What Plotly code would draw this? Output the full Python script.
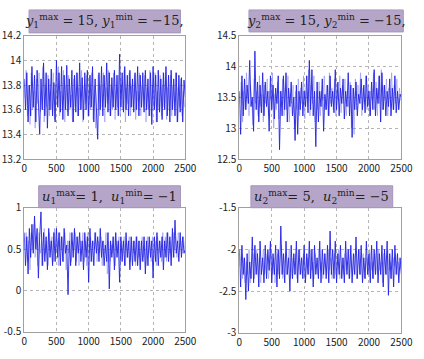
import numpy as np
import plotly.graph_objects as go

# dark (main) strokes, sampled every 20 steps
y1 = [13.85, 13.6, 13.9, 13.5, 13.8, 13.55, 13.95, 13.62, 13.88, 13.5, 13.92, 13.58, 13.4, 13.85, 13.6, 13.98, 13.55, 13.9, 13.45, 13.85, 13.6, 13.93, 13.55, 13.82, 13.5, 14.0, 13.62, 13.9, 13.58, 13.95, 13.52, 13.88, 13.6, 13.96, 13.55, 13.85, 13.62, 13.92, 13.5, 13.88, 13.58, 13.9, 13.55, 13.98, 13.6, 13.86, 13.52, 13.9, 13.6, 13.92, 13.55, 13.88, 13.62, 13.95, 13.5, 13.85, 13.58, 13.36, 13.9, 13.6, 13.95, 13.55, 13.88, 13.62, 13.98, 13.58, 13.9, 13.55, 13.86, 13.62, 13.92, 13.6, 13.88, 13.55, 14.05, 13.62, 13.9, 13.58, 13.95, 13.6, 13.88, 13.55, 13.92, 13.62, 13.85, 13.58, 13.9, 13.6, 13.95, 13.55, 13.88, 13.62, 13.9, 13.58, 13.92, 13.6, 13.85, 13.55, 13.9, 13.48, 13.95, 13.6, 13.88, 13.5, 13.92, 13.58, 13.85, 13.52, 13.9, 13.6, 13.95, 13.55, 13.88, 13.5, 13.92, 13.6, 13.85, 13.55, 13.9, 13.5, 13.88, 13.58, 13.86, 13.5, 13.84, 13.7]
y2 = [13.6, 12.9, 13.85, 13.2, 13.8, 13.3, 13.7, 13.4, 14.1, 13.35, 13.5, 12.95, 14.25, 13.3, 13.75, 13.1, 13.7, 13.25, 13.9, 13.2, 13.75, 13.35, 13.6, 12.95, 13.85, 13.3, 13.7, 13.15, 13.65, 13.4, 13.85, 12.65, 13.6, 13.2, 13.85, 13.3, 13.9, 13.1, 13.65, 13.35, 13.75, 13.2, 13.5, 12.8, 13.7, 12.9, 13.6, 13.3, 13.75, 13.2, 13.6, 13.35, 13.85, 13.25, 14.1, 13.3, 13.95, 13.2, 13.6, 12.7, 13.75, 13.1, 13.6, 13.35, 13.8, 12.95, 13.55, 13.3, 13.7, 13.2, 13.85, 13.35, 13.6, 13.25, 13.95, 13.3, 13.75, 13.2, 13.65, 13.4, 13.8, 13.15, 13.6, 13.35, 13.9, 13.2, 13.7, 12.85, 13.65, 13.3, 13.75, 13.2, 13.55, 13.4, 13.8, 13.3, 13.7, 13.25, 13.85, 13.35, 13.6, 13.2, 13.75, 13.3, 13.95, 13.2, 13.65, 13.4, 13.85, 13.1, 13.9, 13.3, 13.7, 13.2, 13.6, 13.35, 13.8, 13.2, 13.65, 13.3, 13.85, 13.25, 13.6, 13.3, 13.55, 13.5]
u1 = [0.7, 0.3, 0.65, 0.2, 0.75, 0.4, 0.8, 0.45, 0.9, 0.5, 0.75, 0.15, 0.65, 0.95, 0.3, 0.7, 0.35, 0.65, 0.25, 0.75, 0.4, 0.6, 0.3, 0.7, 0.35, 0.75, 0.4, 0.7, 0.3, 0.65, 0.35, 0.75, 0.45, 0.55, -0.05, 0.6, 0.3, 0.7, 0.4, 0.75, 0.3, 0.65, 0.45, 0.7, 0.35, 0.6, 0.25, 0.7, 0.4, 0.65, 0.1, 0.75, 0.35, 0.6, 0.3, 0.7, 0.45, 0.65, 0.35, 0.75, 0.4, 0.6, 0.3, 0.55, 0.35, 0.7, 0.02, 0.6, 0.4, 0.65, 0.25, 0.7, 0.4, 0.6, 0.1, 0.65, 0.35, 0.6, 0.3, 0.7, 0.4, 0.6, 0.25, 0.65, 0.3, 0.6, 0.35, 0.65, 0.3, 0.6, 0.25, 0.6, 0.35, 0.65, 0.2, 0.6, 0.3, 0.65, 0.4, 0.6, 0.15, 0.65, 0.35, 0.7, 0.3, 0.6, 0.4, 0.65, 0.25, 0.6, 0.4, 0.7, 0.35, 0.65, 0.3, 0.75, 0.4, 0.85, 0.45, 0.6, 0.35, 0.7, 0.4, 0.65, 0.45, 0.5]
u2 = [-2.0, -2.45, -1.95, -2.3, -2.1, -2.6, -2.05, -2.5, -2.15, -2.35, -1.85, -2.4, -1.95, -2.3, -2.05, -2.45, -1.9, -2.3, -2.1, -2.4, -1.95, -2.35, -2.0, -2.25, -1.9, -2.4, -2.05, -2.3, -1.95, -2.45, -2.0, -2.35, -1.72, -2.3, -2.05, -2.4, -1.9, -2.3, -2.1, -2.5, -1.95, -2.35, -2.05, -2.3, -1.9, -2.4, -2.0, -2.3, -2.1, -2.35, -1.95, -2.4, -2.05, -2.3, -1.9, -2.35, -2.0, -2.45, -1.95, -2.3, -2.1, -2.35, -1.9, -2.4, -2.0, -2.3, -2.05, -2.35, -1.95, -2.4, -1.78, -2.3, -2.0, -2.35, -1.9, -2.4, -2.05, -2.3, -1.95, -2.35, -2.1, -2.4, -1.9, -2.3, -2.0, -2.35, -1.95, -2.4, -2.05, -2.3, -1.85, -2.35, -2.0, -2.3, -1.95, -2.4, -2.1, -2.35, -1.9, -2.3, -2.05, -2.4, -1.95, -2.35, -2.0, -2.3, -1.9, -2.4, -2.05, -2.3, -1.95, -2.45, -2.0, -2.3, -1.9, -2.55, -2.05, -2.35, -2.0, -2.45, -1.95, -2.3, -2.05, -2.4, -2.1, -2.3]

# light (faint) strokes between the dark ones
y1_light = [13.7, 13.92, 13.55, 13.8, 13.48, 13.9, 13.6, 13.75, 13.45, 13.85, 13.65, 13.9, 13.58, 13.72, 13.95, 13.5, 13.8, 13.62, 13.88, 13.55, 13.75, 13.6, 13.9, 13.52, 13.8, 13.65, 13.95, 13.55, 13.75, 13.6, 13.92, 13.5, 13.8, 13.58, 13.88, 13.6, 13.72, 13.5, 13.85, 13.62, 13.9, 13.55, 13.78, 13.6, 13.92, 13.5, 13.8, 13.65, 13.88, 13.55, 13.75, 13.6, 13.9, 13.52, 13.8, 13.45, 13.7, 13.88, 13.55, 13.8, 13.62, 13.9, 13.5, 13.78, 13.65, 13.92, 13.55, 13.8, 13.6, 13.9, 13.52, 13.75, 13.62, 13.88, 13.55, 13.8, 13.6, 13.92, 13.5, 13.78, 13.65, 13.9, 13.55, 13.8, 13.62, 13.88, 13.52, 13.75, 13.6, 13.9, 13.55, 13.8, 13.62, 13.88, 13.5, 13.78, 13.6, 13.92, 13.55, 13.8, 13.62, 13.9, 13.5, 13.75, 13.6, 13.88, 13.55, 13.8, 13.62, 13.9, 13.52, 13.78, 13.6, 13.88, 13.55, 13.8, 13.6, 13.9, 13.5, 13.78, 13.62, 13.85, 13.55, 13.75, 13.62]
y2_light = [13.4, 13.75, 13.1, 13.6, 13.3, 13.9, 13.45, 13.2, 13.7, 13.5, 13.05, 13.8, 13.4, 13.6, 13.2, 13.85, 13.35, 13.55, 13.1, 13.7, 13.4, 13.8, 13.2, 13.6, 13.45, 13.9, 13.0, 13.55, 13.3, 13.75, 13.15, 13.6, 13.4, 13.8, 13.2, 13.65, 13.3, 13.85, 13.1, 13.55, 13.4, 13.7, 13.0, 13.6, 13.3, 13.8, 13.2, 13.65, 13.4, 13.85, 13.15, 13.6, 13.35, 13.95, 13.2, 13.7, 13.4, 13.85, 13.1, 13.6, 13.3, 13.75, 13.2, 13.6, 13.45, 13.85, 13.3, 13.7, 13.2, 13.9, 13.4, 13.65, 13.3, 13.8, 13.2, 13.6, 13.45, 13.85, 13.25, 13.7, 13.4, 13.8, 13.2, 13.6, 13.35, 13.75, 13.0, 13.65, 12.9, 13.8, 13.3, 13.7, 13.45, 13.9, 13.2, 13.65, 13.4, 13.85, 13.3, 13.7, 13.2, 13.6, 13.45, 13.9, 13.3, 13.75, 13.2, 13.85, 13.4, 13.95, 13.3, 13.7, 13.45, 13.8, 13.2, 13.65, 13.35, 13.9, 13.3, 13.7, 13.4, 13.8, 13.3, 13.65, 13.45]
u1_light = [0.5, 0.7, 0.35, 0.6, 0.25, 0.7, 0.5, 0.8, 0.4, 0.65, 0.3, 0.7, 0.45, 0.6, 0.3, 0.75, 0.45, 0.6, 0.3, 0.7, 0.5, 0.65, 0.35, 0.75, 0.45, 0.6, 0.3, 0.7, 0.5, 0.65, 0.35, 0.7, 0.25, 0.6, 0.45, 0.7, 0.35, 0.6, 0.5, 0.7, 0.35, 0.65, 0.3, 0.6, 0.45, 0.7, 0.35, 0.6, 0.3, 0.7, 0.45, 0.65, 0.35, 0.6, 0.5, 0.7, 0.35, 0.6, 0.45, 0.65, 0.3, 0.6, 0.45, 0.7, 0.2, 0.6, 0.35, 0.55, 0.45, 0.65, 0.3, 0.6, 0.45, 0.65, 0.35, 0.6, 0.45, 0.65, 0.3, 0.6, 0.4, 0.65, 0.35, 0.6, 0.45, 0.6, 0.3, 0.65, 0.4, 0.6, 0.35, 0.65, 0.4, 0.6, 0.3, 0.65, 0.45, 0.6, 0.35, 0.65, 0.4, 0.6, 0.3, 0.65, 0.45, 0.6, 0.35, 0.7, 0.4, 0.65, 0.35, 0.7, 0.45, 0.6, 0.4, 0.7, 0.5, 0.65, 0.4, 0.7, 0.5, 0.6, 0.45, 0.65, 0.5]
u2_light = [-2.2, -2.0, -2.35, -2.1, -2.4, -2.15, -2.3, -2.0, -2.4, -2.2, -2.05, -2.35, -2.15, -2.0, -2.3, -2.1, -2.4, -2.2, -2.0, -2.3, -2.15, -2.05, -2.35, -2.2, -2.0, -2.3, -2.1, -2.4, -2.2, -2.05, -2.3, -2.1, -1.95, -2.35, -2.2, -2.05, -2.3, -2.15, -2.0, -2.35, -2.2, -2.1, -2.3, -2.05, -2.35, -2.2, -2.0, -2.3, -2.15, -2.05, -2.35, -2.2, -2.1, -2.3, -2.0, -2.25, -2.15, -2.35, -2.05, -2.2, -2.3, -2.0, -2.25, -2.15, -2.35, -2.05, -2.2, -2.3, -2.0, -2.25, -2.1, -2.35, -2.2, -2.05, -2.3, -2.15, -2.0, -2.35, -2.2, -2.1, -2.3, -2.05, -2.25, -2.15, -2.35, -2.0, -2.2, -2.3, -2.1, -2.05, -2.35, -2.2, -2.0, -2.3, -2.15, -2.05, -2.35, -2.2, -2.1, -2.3, -2.0, -2.25, -2.15, -2.35, -2.05, -2.2, -2.3, -2.0, -2.25, -2.15, -2.4, -2.05, -2.2, -2.3, -2.0, -2.25, -2.15, -2.35, -2.1, -2.2, -2.05, -2.3, -2.15, -2.25, -2.2]

titles = [
    "<i>y</i><sub>1</sub><sup>max</sup> = 15, <i>y</i><sub>1</sub><sup>min</sup> = −15,",
    "<i>y</i><sub>2</sub><sup>max</sup> = 15, <i>y</i><sub>2</sub><sup>min</sup> = −15,",
    "<i>u</i><sub>1</sub><sup>max</sup>= 1,  <i>u</i><sub>1</sub><sup>min</sup>= −1",
    "<i>u</i><sub>2</sub><sup>max</sup>= 5,  <i>u</i><sub>2</sub><sup>min</sup>= −5",
]
x_ticks = [0, 500, 1000, 1500, 2000, 2500]
y_ranges = [[13.2, 14.2], [12.5, 14.5], [-0.5, 1], [-3, -1.5]]
y_ticks = [[13.2, 13.4, 13.6, 13.8, 14.0, 14.2], [12.5, 13, 13.5, 14, 14.5], [-0.5, 0, 0.5, 1], [-3, -2.5, -2, -1.5]]
y_ticktext = [["13.2", "13.4", "13.6", "13.8", "14", "14.2"], ["12.5", "13", "13.5", "14", "14.5"], ["-0.5", "0", "0.5", "1"], ["-3", "-2.5", "-2", "-1.5"]]

W, H = 424, 359
areas = [(22, 189, 28, 157), (245, 413, 28, 157), (22, 189, 208, 338), (245, 413, 208, 339)]
boxes = [(27, 184, 1, 25), (255, 415, 1, 24), (37, 184, 185, 208), (257, 404, 185, 208)]

fig = go.Figure()
series = [y1, y2, u1, u2]
series_light = [y1_light, y2_light, u1_light, u2_light]
layout = dict(width=W, height=H, margin=dict(l=0, r=0, t=0, b=0),
              paper_bgcolor="white", plot_bgcolor="white", showlegend=False)
shapes, annotations = [], []
font_tick = dict(family="Noto Sans CJK JP", size=10, color="#222222")
for i, s in enumerate(series):
    n = i + 1
    xa = "x" if n == 1 else f"x{n}"
    ya = "y" if n == 1 else f"y{n}"
    sl = series_light[i]
    fig.add_trace(go.Scatter(x=np.linspace(10, 2490, len(sl)), y=sl, mode="lines", xaxis=xa, yaxis=ya,
                             line=dict(color="rgba(110,110,240,0.55)", width=0.8)))
    fig.add_trace(go.Scatter(x=np.linspace(0, 2500, len(s)), y=s, mode="lines", xaxis=xa, yaxis=ya,
                             line=dict(color="rgb(35,35,225)", width=0.9)))
    l, r, t, b = areas[i]
    common = dict(showgrid=True, gridcolor="#b5b5b5", griddash="dot", gridwidth=1,
                  showline=True, linecolor="#a0a0a0", mirror=True, zeroline=False,
                  ticks="", tickfont=font_tick)
    layout["xaxis" if n == 1 else f"xaxis{n}"] = dict(
        domain=[l / W, r / W], anchor=ya, range=[0, 2500], tickvals=x_ticks, **common)
    layout["yaxis" if n == 1 else f"yaxis{n}"] = dict(
        domain=[1 - b / H, 1 - t / H], anchor=xa, range=y_ranges[i],
        tickvals=y_ticks[i], ticktext=y_ticktext[i], **common)
    bl, br, bt, bb = boxes[i]
    shapes.append(dict(type="rect", xref="paper", yref="paper",
                       x0=bl / W, x1=br / W, y0=1 - bb / H, y1=1 - bt / H,
                       fillcolor="rgb(181,166,201)", line=dict(color="rgb(165,150,188)", width=1)))
    annotations.append(dict(xref="paper", yref="paper", x=(bl + br) / 2 / W, y=1 - (bt + bb) / 2 / H,
                            text=titles[i], showarrow=False, xanchor="center", yanchor="middle",
                            font=dict(family="DejaVu Serif", size=13, color="#222222")))
layout["shapes"] = shapes
layout["annotations"] = annotations
fig.update_layout(**layout)
fig.write_html("out.html")
